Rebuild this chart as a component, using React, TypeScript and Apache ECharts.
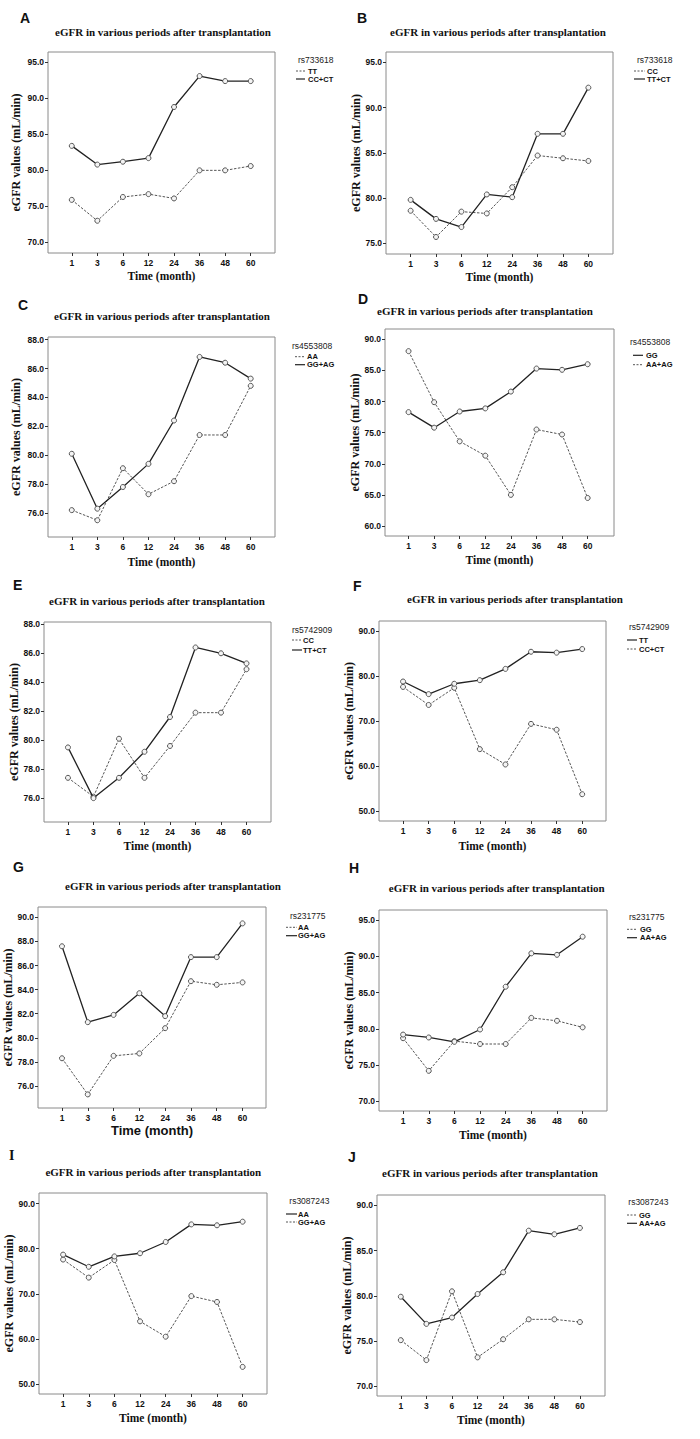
import React, { useEffect, useRef } from 'react';
import * as echarts from 'echarts';

// ---------- data ----------
const months = ['1', '3', '6', '12', '24', '36', '48', '60'];

const aTT = [75.9, 73.0, 76.3, 76.7, 76.1, 80.0, 80.0, 80.6];
const aCCCT = [83.4, 80.8, 81.2, 81.7, 88.8, 93.1, 92.4, 92.4];
const bCC = [78.6, 75.7, 78.5, 78.3, 81.2, 84.7, 84.4, 84.1];
const bTTCT = [79.8, 77.7, 76.8, 80.4, 80.1, 87.1, 87.1, 92.2];
const cAA = [76.2, 75.5, 79.1, 77.3, 78.2, 81.4, 81.4, 84.8];
const cGGAG = [80.1, 76.3, 77.8, 79.4, 82.4, 86.8, 86.4, 85.3];
const dGG = [78.3, 75.8, 78.4, 78.9, 81.6, 85.3, 85.1, 86.0];
const dAAAG = [88.1, 79.9, 73.6, 71.3, 65.0, 75.5, 74.7, 64.5];
const eCC = [77.4, 76.1, 80.1, 77.4, 79.6, 81.9, 81.9, 84.9];
const eTTCT = [79.5, 76.0, 77.4, 79.2, 81.6, 86.4, 86.0, 85.3];
const fTT = [78.8, 76.0, 78.3, 79.1, 81.6, 85.4, 85.2, 86.0];
const fCCCT = [77.6, 73.6, 77.4, 63.8, 60.4, 69.4, 68.1, 53.8];
const gAA = [78.3, 75.3, 78.5, 78.7, 80.8, 84.7, 84.4, 84.6];
const gGGAG = [87.6, 81.3, 81.9, 83.7, 81.8, 86.7, 86.7, 89.5];
const hGG = [78.7, 74.2, 78.3, 77.9, 77.9, 81.5, 81.1, 80.2];
const hAAAG = [79.2, 78.8, 78.2, 79.9, 85.8, 90.4, 90.2, 92.7];
const iAA = [78.7, 76.0, 78.3, 79.0, 81.5, 85.4, 85.2, 86.0];
const iGGAG = [77.6, 73.6, 77.5, 63.9, 60.5, 69.5, 68.2, 53.8];
const jGG = [75.1, 72.9, 80.5, 73.2, 75.2, 77.4, 77.4, 77.1];
const jAAAG = [79.9, 76.9, 77.6, 80.2, 82.6, 87.2, 86.8, 87.5];

const ticksA = [70, 75, 80, 85, 90, 95];
const ticksB = [75, 80, 85, 90, 95];
const ticksC = [76, 78, 80, 82, 84, 86, 88];
const ticksD = [60, 65, 70, 75, 80, 85, 90];
const ticksE = [76, 78, 80, 82, 84, 86, 88];
const ticksF = [50, 60, 70, 80, 90];
const ticksG = [76, 78, 80, 82, 84, 86, 88, 90];
const ticksH = [70, 75, 80, 85, 90, 95];
const ticksI = [50, 60, 70, 80, 90];
const ticksJ = [70, 75, 80, 85, 90];

const chartTitle = 'eGFR in various periods after transplantation';
const xTitle = 'Time (month)';
const yTitle = 'eGFR values (mL/min)';

// ---------- layout ----------
type LineDef = { name: string; values: number[]; dashed: boolean };
type Panel = {
  letter: string;
  snp: string;
  lines: LineDef[];
  ticks: number[];
  yMin: number;
  yMax: number;
  grid: { left: number; top: number; width: number; height: number };
  xMin: number;
  xMax: number;
  yGap: number;
  xGap: number;
  title: [number, number];
  letterPos: [number, number];
  legend: { tx: number; ty: number; lx1: number; lx2: number; labx: number; y1: number; y2: number };
  xSans?: boolean;
  letterSerif?: boolean;
};

const panels: Panel[] = [
  {
    letter: 'A', snp: 'rs733618',
    lines: [{ name: 'TT', values: aTT, dashed: true }, { name: 'CC+CT', values: aCCCT, dashed: false }],
    ticks: ticksA, yMin: 68.52, yMax: 96.44,
    grid: { left: 48, top: 52, width: 227, height: 201 }, xMin: -0.93, xMax: 7.95,
    yGap: 26, xGap: 17, title: [163, 32], letterPos: [20, 18],
    legend: { tx: 298, ty: 60, lx1: 296, lx2: 305, labx: 308, y1: 71, y2: 79 },
  },
  {
    letter: 'B', snp: 'rs733618',
    lines: [{ name: 'CC', values: bCC, dashed: true }, { name: 'TT+CT', values: bTTCT, dashed: false }],
    ticks: ticksB, yMin: 73.82, yMax: 96.14,
    grid: { left: 386, top: 52, width: 227, height: 202 }, xMin: -0.97, xMax: 7.97,
    yGap: 20, xGap: 17, title: [498, 32], letterPos: [357, 18],
    legend: { tx: 637, ty: 60, lx1: 634, lx2: 645, labx: 647, y1: 71, y2: 79 },
  },
  {
    letter: 'C', snp: 'rs4553808',
    lines: [{ name: 'AA', values: cAA, dashed: true }, { name: 'GG+AG', values: cGGAG, dashed: false }],
    ticks: ticksC, yMin: 74.34, yMax: 88.18,
    grid: { left: 48, top: 337, width: 227, height: 200 }, xMin: -0.93, xMax: 7.95,
    yGap: 26, xGap: 19, title: [162, 316], letterPos: [18, 305],
    legend: { tx: 292, ty: 346, lx1: 295, lx2: 305, labx: 307, y1: 356.7, y2: 364.7 },
  },
  {
    letter: 'D', snp: 'rs4553808',
    lines: [{ name: 'GG', values: dGG, dashed: false }, { name: 'AA+AG', values: dAAAG, dashed: true }],
    ticks: ticksD, yMin: 58.39, yMax: 91.66,
    grid: { left: 385, top: 329, width: 229, height: 207 }, xMin: -0.92, xMax: 8.03,
    yGap: 22, xGap: 18, title: [485, 311], letterPos: [358, 299],
    legend: { tx: 630, ty: 342.3, lx1: 633, lx2: 643, labx: 646, y1: 355.3, y2: 364.7 },
  },
  {
    letter: 'E', snp: 'rs5742909',
    lines: [{ name: 'CC', values: eCC, dashed: true }, { name: 'TT+CT', values: eTTCT, dashed: false }],
    ticks: ticksE, yMin: 74.35, yMax: 88.16,
    grid: { left: 44, top: 622, width: 227, height: 200 }, xMin: -0.94, xMax: 7.96,
    yGap: 23, xGap: 18, title: [157, 601], letterPos: [13, 585],
    legend: { tx: 292, ty: 630, lx1: 292, lx2: 302, labx: 303, y1: 640, y2: 650 },
  },
  {
    letter: 'F', snp: 'rs5742909',
    lines: [{ name: 'TT', values: fTT, dashed: false }, { name: 'CC+CT', values: fCCCT, dashed: true }],
    ticks: ticksF, yMin: 47.86, yMax: 92.22,
    grid: { left: 379, top: 621, width: 227, height: 200 }, xMin: -0.94, xMax: 7.93,
    yGap: 15, xGap: 19, title: [515, 599.3], letterPos: [353, 586],
    legend: { tx: 629, ty: 627.3, lx1: 627, lx2: 637, labx: 639, y1: 640, y2: 649 },
  },
  {
    letter: 'G', snp: 'rs231775',
    lines: [{ name: 'AA', values: gAA, dashed: true }, { name: 'GG+AG', values: gGGAG, dashed: false }],
    ticks: ticksG, yMin: 74.17, yMax: 90.86,
    grid: { left: 38, top: 907, width: 228, height: 201 }, xMin: -0.93, xMax: 7.91,
    yGap: 22, xGap: 16, title: [173, 885.7], letterPos: [13, 866.7], xSans: true,
    legend: { tx: 290, ty: 915.7, lx1: 286, lx2: 297, labx: 298, y1: 927.3, y2: 935.7 },
  },
  {
    letter: 'H', snp: 'rs231775',
    lines: [{ name: 'GG', values: hGG, dashed: true }, { name: 'AA+AG', values: hAAAG, dashed: false }],
    ticks: ticksH, yMin: 68.66, yMax: 96.38,
    grid: { left: 379, top: 910, width: 228, height: 201 }, xMin: -0.94, xMax: 7.95,
    yGap: 15, xGap: 18, title: [496.7, 888.3], letterPos: [349, 868],
    legend: { tx: 629, ty: 917.3, lx1: 627, lx2: 637, labx: 640, y1: 929.3, y2: 937.7 },
  },
  {
    letter: 'I', snp: 'rs3087243',
    lines: [{ name: 'AA', values: iAA, dashed: false }, { name: 'GG+AG', values: iGGAG, dashed: true }],
    ticks: ticksI, yMin: 47.79, yMax: 92.36,
    grid: { left: 39, top: 1193, width: 228, height: 201 }, xMin: -0.94, xMax: 7.95,
    yGap: 23, xGap: 18, title: [153.3, 1171.7], letterPos: [9, 1155], letterSerif: true,
    legend: { tx: 289.3, ty: 1200.7, lx1: 286, lx2: 297, labx: 298, y1: 1214, y2: 1222 },
  },
  {
    letter: 'J', snp: 'rs3087243',
    lines: [{ name: 'GG', values: jGG, dashed: true }, { name: 'AA+AG', values: jAAAG, dashed: false }],
    ticks: ticksJ, yMin: 68.93, yMax: 91.14,
    grid: { left: 377, top: 1195, width: 228, height: 201 }, xMin: -0.93, xMax: 7.98,
    yGap: 16, xGap: 18, title: [490, 1173.3], letterPos: [348, 1157],
    legend: { tx: 628.3, ty: 1201.7, lx1: 627, lx2: 637, labx: 639, y1: 1215, y2: 1223.3 },
  },
];

const SERIF = '"Liberation Serif", "Times New Roman", serif';
const SANS = '"Liberation Sans", Arial, sans-serif';
const NARROW = '"Liberation Sans Narrow", "Liberation Sans", Arial, sans-serif';

function buildOption() {
  const grid: any[] = [];
  const xAxis: any[] = [];
  const yAxis: any[] = [];
  const series: any[] = [];
  const title: any[] = [];
  const graphic: any[] = [];
  const xIdx = months.map((_, i) => i);

  panels.forEach((p, k) => {
    grid.push({
      left: p.grid.left, top: p.grid.top, width: p.grid.width, height: p.grid.height,
      show: true, borderColor: '#8a8a8a', borderWidth: 1, backgroundColor: 'transparent',
    });
    xAxis.push({
      gridIndex: k, type: 'value', min: p.xMin, max: p.xMax, position: 'bottom',
      axisLine: { show: false, onZero: false }, splitLine: { show: false },
      axisTick: { show: true, customValues: xIdx, length: 3, lineStyle: { color: '#333', width: 1 } },
      axisLabel: {
        customValues: xIdx, formatter: (v: number) => months[Math.round(v)] ?? '',
        fontSize: 8.5, fontWeight: 'bold', fontFamily: NARROW, color: '#111', margin: 5,
      },
      name: xTitle, nameLocation: 'middle', nameGap: p.xGap,
      nameTextStyle: p.xSans
        ? { fontFamily: SANS, fontWeight: 'bold', fontSize: 13, color: '#111' }
        : { fontFamily: SERIF, fontWeight: 'bold', fontSize: 11.5, color: '#111' },
    });
    yAxis.push({
      gridIndex: k, type: 'value', min: p.yMin, max: p.yMax, position: 'left',
      axisLine: { show: false, onZero: false }, splitLine: { show: false },
      axisTick: { show: true, customValues: p.ticks, length: 3, lineStyle: { color: '#333', width: 1 } },
      axisLabel: {
        customValues: p.ticks, formatter: (v: number) => Number(v).toFixed(1),
        fontSize: 8.5, fontWeight: 'bold', fontFamily: NARROW, color: '#111', margin: 4,
      },
      name: yTitle, nameLocation: 'middle', nameRotate: 90, nameGap: p.yGap,
      nameTextStyle: { fontFamily: SERIF, fontWeight: 'bold', fontSize: 12, color: '#111' },
    });
    p.lines.forEach((ln) => {
      series.push({
        type: 'line', name: `${p.letter} ${ln.name}`, xAxisIndex: k, yAxisIndex: k,
        data: ln.values.map((v, i) => [i, v]),
        symbol: 'circle', symbolSize: 5, silent: true,
        lineStyle: ln.dashed
          ? { color: '#555', width: 1, type: [2.5, 1.5] }
          : { color: '#222', width: 1.3, type: 'solid' },
        itemStyle: { color: '#f4f4f4', borderColor: '#555', borderWidth: 1 },
        z: ln.dashed ? 2 : 3,
      });
    });
    title.push({
      text: chartTitle, left: p.title[0], top: p.title[1] - 6.5, textAlign: 'center', padding: 0,
      textStyle: { fontFamily: SERIF, fontWeight: 'bold', fontSize: 11, color: '#111', lineHeight: 13 },
    });
    graphic.push({
      type: 'text', x: p.letterPos[0], y: p.letterPos[1],
      style: {
        text: p.letter, font: `bold 14px ${p.letterSerif ? SERIF : SANS}`, fill: '#111',
        align: 'left', verticalAlign: 'middle', textAlign: 'left', textVerticalAlign: 'middle',
      },
    });
    const L = p.legend;
    graphic.push({
      type: 'text', x: L.tx, y: L.ty,
      style: {
        text: p.snp, font: `8.5px ${NARROW}`, fill: '#222',
        align: 'left', verticalAlign: 'middle', textAlign: 'left', textVerticalAlign: 'middle',
      },
    });
    const ys = [L.y1, L.y2];
    p.lines.forEach((ln, i) => {
      graphic.push({
        type: 'line',
        shape: { x1: L.lx1, y1: ys[i], x2: L.lx2, y2: ys[i] },
        style: ln.dashed
          ? { stroke: '#555', lineWidth: 1, lineDash: [2, 1.5] }
          : { stroke: '#222', lineWidth: 1.2 },
      });
      graphic.push({
        type: 'text', x: L.labx, y: ys[i],
        style: {
          text: ln.name, font: `bold 7.5px ${SANS}`, fill: '#111',
          align: 'left', verticalAlign: 'middle', textAlign: 'left', textVerticalAlign: 'middle',
        },
      });
    });
  });

  return {
    animation: false,
    backgroundColor: '#ffffff',
    grid, xAxis, yAxis, series, title, graphic,
  };
}

export default function App() {
  const ref = useRef<HTMLDivElement>(null);
  useEffect(() => {
    if (!ref.current) return;
    const chart = echarts.init(ref.current, undefined, { renderer: 'svg' });
    chart.setOption(buildOption() as any);
    return () => chart.dispose();
  }, []);
  return (
    <div
      ref={ref}
      style={{ position: 'absolute', left: 0, top: 0, width: 700, height: 1439, background: '#fff' }}
    />
  );
}
